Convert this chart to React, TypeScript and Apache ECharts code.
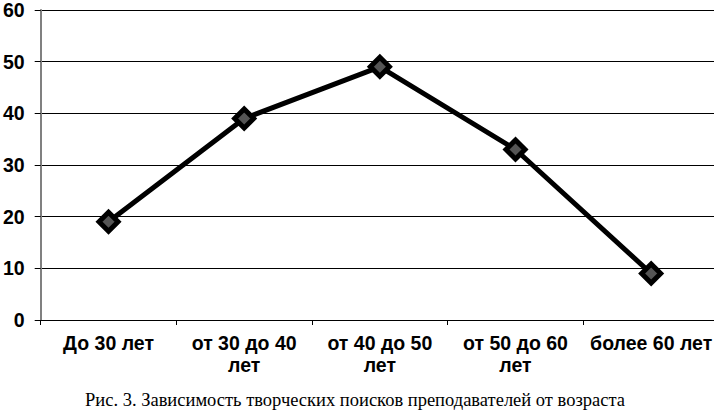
import React, { useEffect, useRef } from "react";
import * as echarts from "echarts";

const categories = ["До 30 лет", "от 30 до 40\nлет", "от 40 до 50\nлет", "от 50 до 60\nлет", "более 60 лет"];
const values = [19, 39, 49, 33, 9];
const caption = "Рис. 3. Зависимость творческих поисков преподавателей от возраста";

export default function App() {
  const ref = useRef<HTMLDivElement>(null);
  useEffect(() => {
    if (!ref.current) return;
    const chart = echarts.init(ref.current, undefined, { renderer: "svg" });
    chart.setOption({
      animation: false,
      backgroundColor: "#fff",
      grid: { left: 39, right: 0, top: 9, bottom: 91 },
      xAxis: {
        type: "category",
        data: categories,
        boundaryGap: true,
        axisLine: { lineStyle: { color: "#000", width: 1 } },
        axisTick: { show: true, length: 5, lineStyle: { color: "#000" } },
        axisLabel: {
          interval: 0,
          margin: 12,
          color: "#000",
          fontFamily: "Liberation Sans, Arial, sans-serif",
          fontWeight: "bold",
          fontSize: 19.5,
          lineHeight: 22,
        },
        splitLine: { show: false },
      },
      yAxis: {
        type: "value",
        min: 0,
        max: 60,
        interval: 10,
        axisLine: { show: true, lineStyle: { color: "#808080", width: 2 } },
        axisTick: { show: true, length: 6, lineStyle: { color: "#000" } },
        axisLabel: {
          margin: 16,
          color: "#000",
          fontFamily: "Liberation Sans, Arial, sans-serif",
          fontWeight: "bold",
          fontSize: 19.5,
        },
        splitLine: { show: true, lineStyle: { color: "#000", width: 1 } },
      },
      series: [
        {
          type: "line",
          data: values,
          symbol: "diamond",
          symbolSize: 19,
          lineStyle: { color: "#000", width: 5 },
          itemStyle: { color: "#555", borderColor: "#000", borderWidth: 5 },
        },
      ],
      graphic: [
        {
          type: "text",
          left: 85,
          top: 390,
          style: {
            text: caption,
            fill: "#000",
            font: "18.5px 'Liberation Serif', 'Times New Roman', serif",
          },
        },
      ],
    });
    return () => chart.dispose();
  }, []);
  return (
    <div style={{ position: "fixed", left: 0, top: 0, width: 714, height: 411, overflow: "hidden", background: "#fff" }}>
      <div ref={ref} style={{ position: "absolute", left: 0, top: 0, width: 719, height: 411 }} />
    </div>
  );
}
